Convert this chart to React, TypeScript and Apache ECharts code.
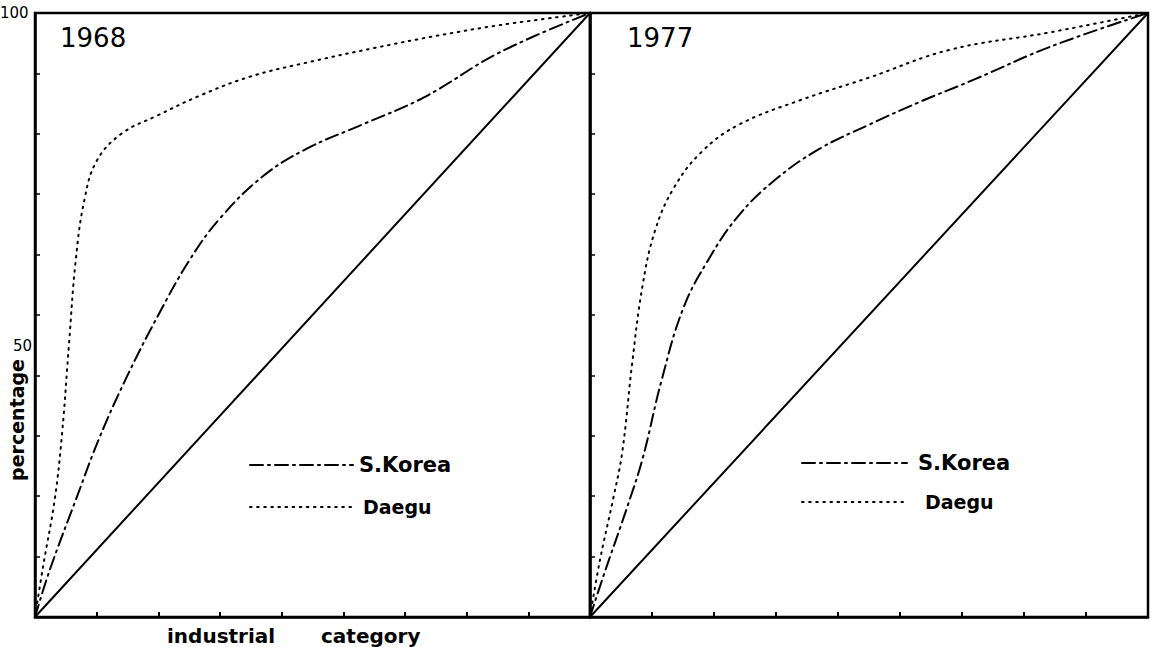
import React, { useEffect, useRef } from "react";
import * as echarts from "echarts";

// ---- data ----
const CATEGORY_COUNT = 9; // industrial categories per panel (x axis 0..9)
const panelTitles = ["1968", "1977"];
const legendNames = ["S.Korea", "Daegu"];
const yTickLabels = ["100", "50"];
const xAxisTitle = ["industrial", "category"];
const yAxisTitle = "percentage";

const equality: number[][] = [
  [0, 0],
  [9, 100],
];

const korea1968: number[][] = [
  [0, 0], [0.24, 7.8], [0.68, 19.9], [1.05, 29.8], [1.5, 40],
  [2.0, 50], [2.5, 59], [3.0, 66], [3.7, 73], [4.4, 77.5],
  [5.3, 81.5], [6.3, 86], [7.54, 93.5], [9, 100],
];

const daegu1968: number[][] = [
  [0, 0], [0.13, 8.3], [0.32, 19.5], [0.44, 30.5], [0.55, 45],
  [0.66, 59], [0.8, 69], [1.0, 75.5], [1.4, 80], [1.98, 83],
  [2.67, 86.3], [3.5, 89.5], [4.5, 92], [5.5, 94.2], [6.5, 96.2],
  [7.54, 98], [9, 100],
];

const korea1977: number[][] = [
  [0, 0], [0.21, 6.6], [0.6, 18.2], [0.85, 26.3], [1.15, 39],
  [1.5, 51], [1.9, 59], [2.4, 66.5], [3.0, 72.5], [3.7, 77.5],
  [4.5, 81.5], [5.3, 85.2], [6.2, 89], [7.42, 94.4], [9, 100],
];

const daegu1977: number[][] = [
  [0, 0], [0.16, 9.4], [0.37, 19.4], [0.52, 27.3], [0.68, 42],
  [0.85, 55], [1.05, 64], [1.35, 71], [1.8, 77], [2.4, 81.5],
  [3.4, 85.6], [4.5, 89.3], [5.8, 93.9], [7.42, 96.8], [9, 100],
];

const FONT = "DejaVu Sans";
const DASH_DOT = [13, 5, 2, 5];
const DOTTED = [1.6, 5.5];

export default function App() {
  const ref = useRef<HTMLDivElement>(null);

  useEffect(() => {
    document.body.style.margin = "0";
    if (!ref.current) return;
    const chart = echarts.init(ref.current, null, { renderer: "svg" });

    const grids = [
      { left: 35, top: 13, width: 555, height: 604 },
      { left: 590, top: 13, width: 558, height: 604 },
    ];

    const xAxes = grids.map((_, i) => ({
      type: "value",
      gridIndex: i,
      min: 0,
      max: CATEGORY_COUNT,
      interval: 1,
      axisLine: { show: true, onZero: false, lineStyle: { color: "#000", width: 2.5 } },
      axisTick: { show: true, inside: true, length: 5, lineStyle: { color: "#000", width: 2 } },
      axisLabel: { show: false },
      splitLine: { show: false },
    }));

    const yAxes = grids.map((_, i) => ({
      type: "value",
      gridIndex: i,
      min: 0,
      max: 100,
      interval: 10,
      axisLine: { show: true, onZero: false, lineStyle: { color: "#000", width: 2.5 } },
      axisTick: { show: true, inside: true, length: 5, lineStyle: { color: "#000", width: 1.5 } },
      axisLabel: { show: false },
      splitLine: { show: false },
    }));

    const lineSeries = (data: number[][], idx: number, type: any, width: number, smooth: number) => ({
      type: "line",
      xAxisIndex: idx,
      yAxisIndex: idx,
      data,
      showSymbol: false,
      smooth,
      lineStyle: { color: "#000", width, type, cap: "round" },
      silent: true,
    });

    const series = [
      lineSeries(equality, 0, "solid", 2, 0),
      lineSeries(korea1968, 0, DASH_DOT, 2, 0.4),
      lineSeries(daegu1968, 0, DOTTED, 2, 0.4),
      lineSeries(equality, 1, "solid", 2, 0),
      lineSeries(korea1977, 1, DASH_DOT, 2, 0.4),
      lineSeries(daegu1977, 1, DOTTED, 2, 0.4),
    ];

    const txt = (text: string, x: number, y: number, size: number, extra: any = {}) => ({
      type: "text",
      x,
      y,
      style: {
        text,
        fontFamily: FONT,
        fontSize: size,
        fill: "#000",
        textVerticalAlign: "middle",
        ...extra,
      },
      silent: true,
    });

    const legendLine = (x1: number, x2: number, y: number, dash: number[]) => ({
      type: "line",
      shape: { x1, y1: y, x2, y2: y },
      style: { stroke: "#000", lineWidth: 2, lineDash: dash, lineCap: "round" },
      silent: true,
    });

    const graphic = [
      txt(yTickLabels[0], 0, 13, 15, { textAlign: "left" }),
      txt(yTickLabels[1], 32, 346, 15, { textAlign: "right" }),
      txt(panelTitles[0], 60, 38, 26, { textAlign: "left" }),
      txt(panelTitles[1], 627, 38, 26, { textAlign: "left" }),
      {
        type: "text",
        x: 17,
        y: 420,
        rotation: Math.PI / 2,
        style: {
          text: yAxisTitle,
          fontFamily: FONT,
          fontSize: 19,
          fontWeight: "bold",
          fill: "#000",
          textAlign: "center",
          textVerticalAlign: "middle",
        },
        silent: true,
      },
      txt(xAxisTitle[0], 167, 636, 20, { textAlign: "left", fontWeight: "bold" }),
      txt(xAxisTitle[1], 321, 636, 20, { textAlign: "left", fontWeight: "bold" }),
      legendLine(250, 353, 465, DASH_DOT),
      legendLine(250, 353, 507, DOTTED),
      txt(legendNames[0], 359, 465, 21, { textAlign: "left", fontWeight: "bold" }),
      txt(legendNames[1], 363, 507, 19, { textAlign: "left", fontWeight: "bold" }),
      legendLine(802, 907, 463, DASH_DOT),
      legendLine(802, 908, 502, DOTTED),
      txt(legendNames[0], 918, 463, 21, { textAlign: "left", fontWeight: "bold" }),
      txt(legendNames[1], 925, 502, 19, { textAlign: "left", fontWeight: "bold" }),
    ];

    chart.setOption({
      animation: false,
      backgroundColor: "#fff",
      grid: grids.map((g) => ({
        ...g,
        show: true,
        borderColor: "#000",
        borderWidth: 2.5,
        backgroundColor: "transparent",
      })),
      xAxis: xAxes,
      yAxis: yAxes,
      series,
      graphic,
    });

    return () => chart.dispose();
  }, []);

  return <div ref={ref} style={{ width: 1157, height: 647 }} />;
}
